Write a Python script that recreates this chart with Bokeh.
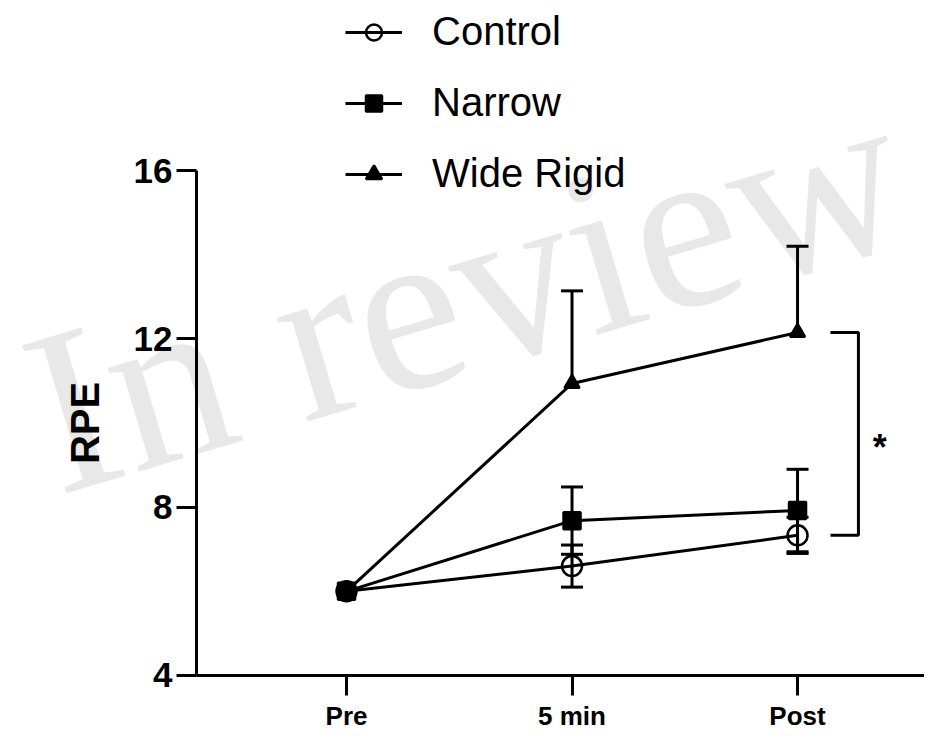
import math
from bokeh.plotting import figure
from bokeh.models import (ColumnDataSource, Whisker, TeeHead, Legend, LegendItem,
                          Label, FixedTicker, Range1d)
from bokeh.embed import file_html
from bokeh.resources import INLINE

# ---- data ----
times = ["Pre", "5 min", "Post"]
control_mean = [6.0, 6.6, 7.33]
control_sd = [0.0, 0.5, 0.43]
narrow_mean = [6.0, 7.68, 7.92]
narrow_sd = [0.0, 0.8, 0.98]
wide_mean = [6.0, 10.94, 12.15]
wide_sd = [0.0, 2.2, 2.05]
y_ticks = [4, 8, 12, 16]
y_label = "RPE"
sig_label = "*"
watermark = "In review"

xs = list(range(1, len(times) + 1))

FONT = "Liberation Sans"

# the frame covers the whole canvas; axes sit at fixed positions inside it
X_AXIS_POS = 0.3348          # x where the y axis is drawn
p = figure(width=924, height=731, output_backend="svg", toolbar_location=None,
           x_range=Range1d(-0.5344, 3.563), y_range=Range1d(2.669, 20.04),
           min_border_left=0, min_border_right=0, min_border_top=0,
           min_border_bottom=0)
p.outline_line_color = None
p.xgrid.visible = False
p.ygrid.visible = False
p.background_fill_color = "white"

# watermark
wm = Label(x=-0.379, y=10.08, text=watermark, angle=0.29,
           text_font="Liberation Serif", text_font_size="236px",
           text_color="black", text_alpha=0.09, text_baseline="alphabetic")
p.add_layout(wm)

# axes
p.xaxis.fixed_location = y_ticks[0]
p.yaxis.fixed_location = X_AXIS_POS
p.xaxis.ticker = FixedTicker(ticks=xs)
p.xaxis.major_label_overrides = {x: t for x, t in zip(xs, times)}
p.xaxis.bounds = (X_AXIS_POS, p.x_range.end)
p.yaxis.ticker = FixedTicker(ticks=y_ticks)
p.yaxis.bounds = (y_ticks[0], y_ticks[-1])
for ax in (p.xaxis[0], p.yaxis[0]):
    ax.axis_line_width = 3
    ax.major_tick_line_width = 3
    ax.minor_tick_line_color = None
    ax.major_tick_in = 0
    ax.major_label_text_font = FONT
    ax.major_label_text_font_style = "bold"
    ax.major_label_text_color = "black"
    ax.axis_line_color = "black"
    ax.major_tick_line_color = "black"
p.yaxis.major_tick_out = 20
p.xaxis.major_tick_out = 20
p.yaxis.major_label_text_font_size = "35px"
p.xaxis.major_label_text_font_size = "26px"
p.yaxis.major_label_standoff = 4
p.xaxis.major_label_standoff = 6

# y axis title, centred on the axis bounds
p.add_layout(Label(x=X_AXIS_POS, x_offset=-112,
                   y=(y_ticks[0] + y_ticks[-1]) / 2, text=y_label,
                   angle=math.pi / 2, text_font=FONT, text_font_style="bold",
                   text_font_size="40px", text_color="black",
                   text_align="center", text_baseline="middle"))

series = [
    ("Control", control_mean, control_sd, "circle", 20, None, True),
    ("Narrow", narrow_mean, narrow_sd, "square", 17, "black", True),
    ("Wide Rigid", wide_mean, wide_sd, "triangle", 15, "black", False),
]

items = []
for name, mean, sd, marker, size, fill, both in series:
    src = ColumnDataSource(dict(x=xs, y=mean))
    lr = p.line("x", "y", source=src, line_color="black", line_width=3)
    mr = p.scatter("x", "y", source=src, marker=marker, size=size,
                   line_color="black", line_width=2.5,
                   fill_color=fill if fill else None)
    items.append(LegendItem(label=name, renderers=[lr, mr]))
    keep = [i for i in range(len(xs)) if sd[i] > 0]
    wsrc = ColumnDataSource(dict(
        base=[xs[i] for i in keep],
        upper=[mean[i] + sd[i] for i in keep],
        lower=[(mean[i] - sd[i]) if both else mean[i] for i in keep]))
    w = Whisker(base="base", upper="upper", lower="lower", source=wsrc,
                line_color="black", line_width=3,
                upper_head=TeeHead(size=22, line_width=3, line_color="black"),
                lower_head=TeeHead(size=22, line_width=3, line_color="black") if both else None)
    p.add_layout(w)

# significance bracket between Wide Rigid and Control at Post
bx0 = xs[-1] + 0.146
bx1 = xs[-1] + 0.27
btop = wide_mean[-1]
bbot = control_mean[-1]
p.line([bx0, bx1, bx1, bx0], [btop, btop, bbot, bbot], line_color="black", line_width=3)
p.add_layout(Label(x=bx1 + 0.095, y=(btop + bbot) / 2, text=sig_label,
                   text_font=FONT, text_font_style="bold", text_font_size="36px",
                   text_align="center", text_baseline="middle", y_offset=-14,
                   text_color="black"))

legend = Legend(items=items, location=(345, 535), glyph_width=57, glyph_height=40,
                label_text_font=FONT, label_text_font_size="40px",
                label_text_color="black", label_standoff=30, spacing=26,
                padding=0, margin=0, border_line_alpha=0,
                background_fill_alpha=0, label_height=40)
p.add_layout(legend, "center")

open("out.html", "w").write(file_html(p, INLINE))
